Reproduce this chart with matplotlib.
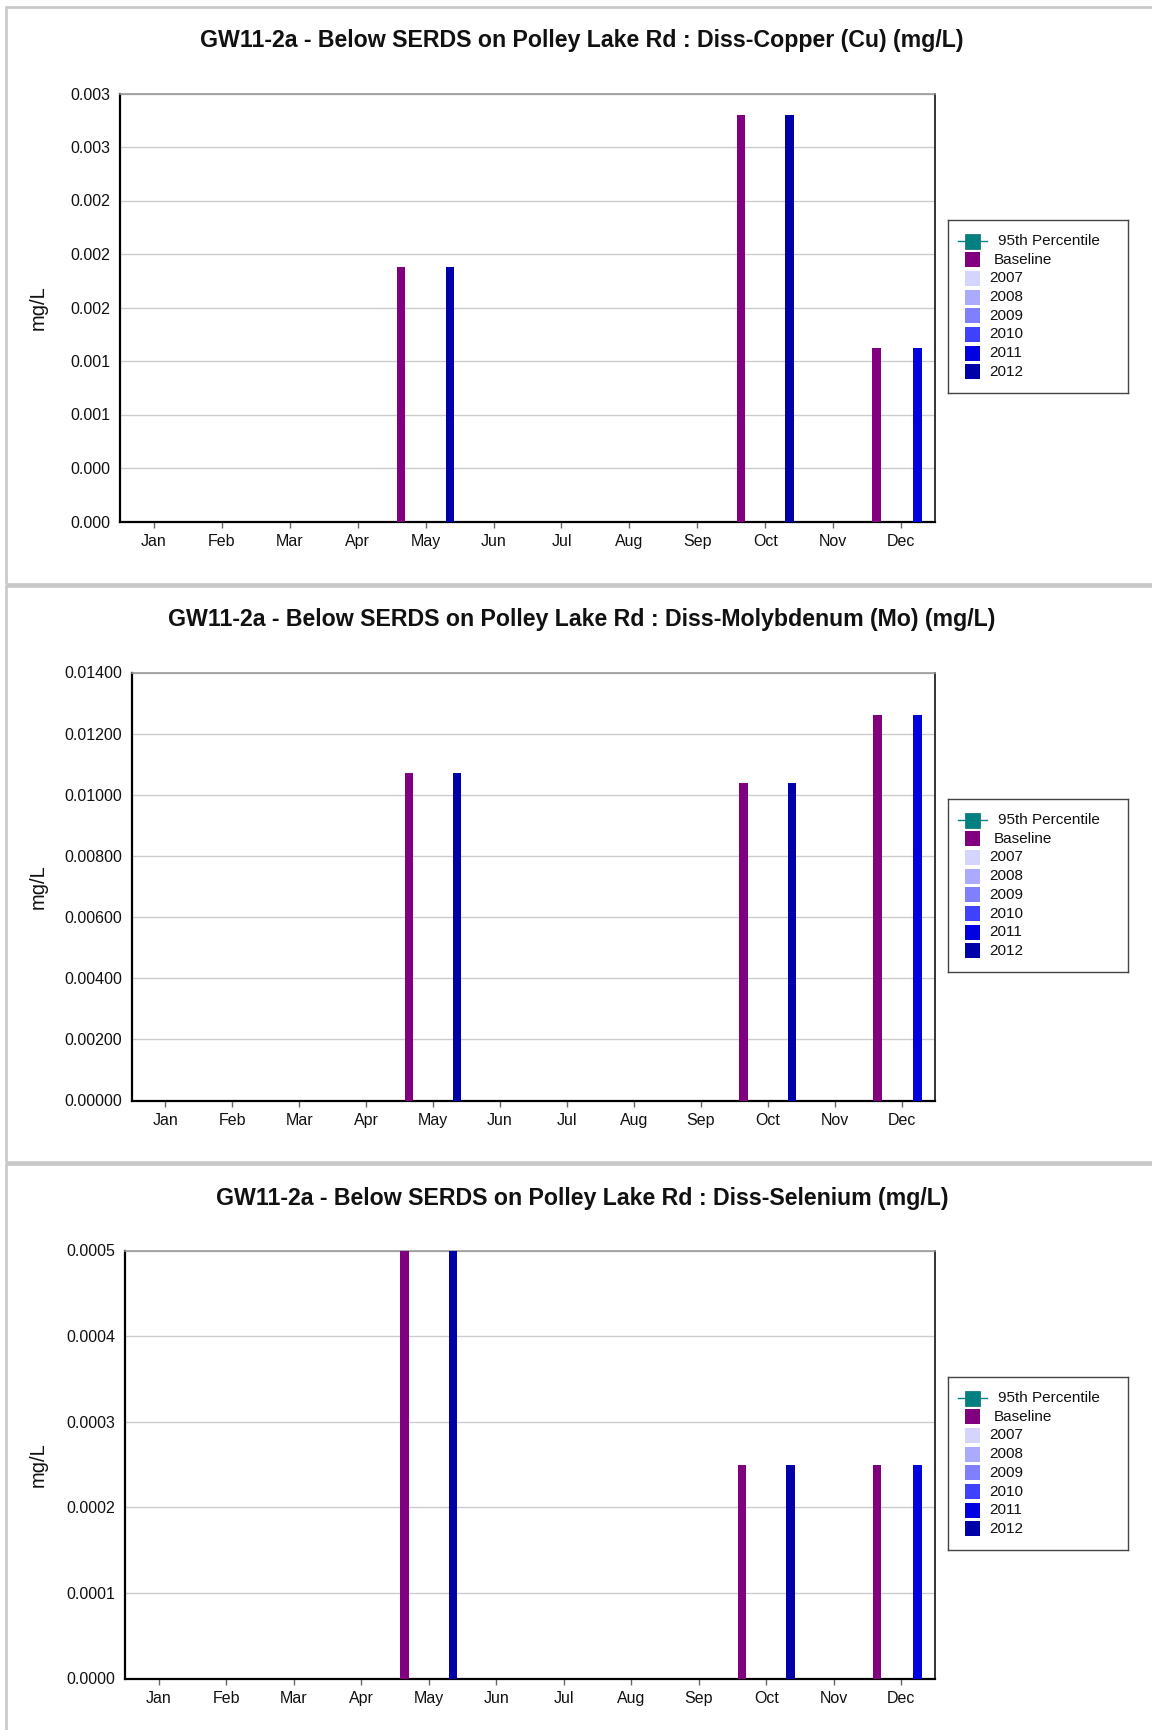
import numpy as np
import matplotlib
matplotlib.use("Agg")
import matplotlib.pyplot as plt
from matplotlib.patches import Rectangle
from matplotlib.lines import Line2D
from matplotlib.ticker import FixedLocator, FormatStrFormatter

plt.rcParams['font.family'] = ['Liberation Sans', 'DejaVu Sans']

# ---------------- data ----------------
months = ['Jan', 'Feb', 'Mar', 'Apr', 'May', 'Jun', 'Jul', 'Aug', 'Sep', 'Oct', 'Nov', 'Dec']
series_names = ['Baseline', '2007', '2008', '2009', '2010', '2011', '2012']
series_colors = ['#800080', '#D4D4FF', '#AAAAFF', '#8080FF', '#4040FF', '#0000E0', '#0000AA']
pct95_name = '95th Percentile'
pct95_color = '#008080'
nan = np.nan

titles = [
    'GW11-2a - Below SERDS on Polley Lake Rd : Diss-Copper (Cu) (mg/L)',
    'GW11-2a - Below SERDS on Polley Lake Rd : Diss-Molybdenum (Mo) (mg/L)',
    'GW11-2a - Below SERDS on Polley Lake Rd : Diss-Selenium (mg/L)',
]

# Copper
cu_baseline = [nan, nan, nan, nan, 0.0019, nan, nan, nan, nan, 0.00304, nan, 0.0013]
cu_2011 = [nan] * 11 + [0.0013]
cu_2012 = [nan, nan, nan, nan, 0.0019, nan, nan, nan, nan, 0.00304, nan, nan]
# Molybdenum
mo_baseline = [nan, nan, nan, nan, 0.0107, nan, nan, nan, nan, 0.0104, nan, 0.0126]
mo_2011 = [nan] * 11 + [0.0126]
mo_2012 = [nan, nan, nan, nan, 0.0107, nan, nan, nan, nan, 0.0104, nan, nan]
# Selenium
se_baseline = [nan, nan, nan, nan, 0.0005, nan, nan, nan, nan, 0.00025, nan, 0.00025]
se_2011 = [nan] * 11 + [0.00025]
se_2012 = [nan, nan, nan, nan, 0.0005, nan, nan, nan, nan, 0.00025, nan, nan]

empty = [nan] * 12
panel_data = [
    [cu_baseline, empty, empty, empty, empty, cu_2011, cu_2012],
    [mo_baseline, empty, empty, empty, empty, mo_2011, mo_2012],
    [se_baseline, empty, empty, empty, empty, se_2011, se_2012],
]

y_ticks = [
    [0.0, 0.0004, 0.0008, 0.0012, 0.0016, 0.0020, 0.0024, 0.0028, 0.0032],
    [0.0, 0.002, 0.004, 0.006, 0.008, 0.010, 0.012, 0.014],
    [0.0, 0.0001, 0.0002, 0.0003, 0.0004, 0.0005],
]
y_formats = ['%.3f', '%.5f', '%.4f']

# ---------------- layout (pixels) ----------------
W, H = 1152, 1730
fig = plt.figure(figsize=(W / 100, H / 100), dpi=100)

panel_tops = [7, 586, 1164]
panel_bottoms = [584, 1162, 1745]
axes_left = [120, 132, 125]
axes_right = 935
axes_top_off = 86.5
axes_h = 428


def fx(px):
    return px / W


def fy(py):
    return 1 - py / H


slot = 0.12
bar_w = 0.125
x = np.arange(len(months))

for p in range(3):
    top = panel_tops[p]
    # panel frame
    fig.add_artist(Rectangle((fx(6), fy(panel_bottoms[p])), fx(1200) - fx(6),
                             fy(top) - fy(panel_bottoms[p]), transform=fig.transFigure,
                             fill=False, edgecolor='#c8c8c8', linewidth=1.9))
    # title
    fig.text(fx(582), fy(top + 34), titles[p], ha='center', va='center',
             fontsize=16.7, fontweight='bold', color='#111111')

    at = top + axes_top_off
    L = axes_left[p]
    ax = fig.add_axes([fx(L), fy(at + axes_h), fx(axes_right) - fx(L), axes_h / H])

    for k, (name, col) in enumerate(zip(series_names, series_colors)):
        vals = np.array(panel_data[p][k], dtype=float)
        ax.bar(x + (k - 3) * slot, vals, width=bar_w, color=col, linewidth=0, zorder=3)

    ax.set_xlim(-0.5, 11.5)
    ax.set_ylim(y_ticks[p][0], y_ticks[p][-1])
    ax.yaxis.set_major_locator(FixedLocator(y_ticks[p]))
    ax.yaxis.set_major_formatter(FormatStrFormatter(y_formats[p]))
    ax.set_xticks(x)
    ax.set_xticklabels(months)
    ax.grid(axis='y', color='#cccccc', linewidth=1.0, zorder=0)
    ax.set_axisbelow(True)
    ax.tick_params(axis='y', length=0, pad=7, labelsize=11.5, labelcolor='#111111')
    ax.tick_params(axis='x', length=4, width=1, color='#666666', pad=5,
                   labelsize=11.5, labelcolor='#111111')
    for s in ['left', 'bottom']:
        ax.spines[s].set_color('#000000')
        ax.spines[s].set_linewidth(1.6)
    ax.spines['top'].set_color('#999999')
    ax.spines['top'].set_linewidth(1.2)
    ax.spines['right'].set_color('#333333')
    ax.spines['right'].set_linewidth(1.4)

    ax.set_ylabel('mg/L', fontsize=14.5, color='#111111')
    ax.yaxis.set_label_coords((48 - L) / (axes_right - L), 0.5)

    # legend box
    lt = top + 213
    lax = fig.add_axes([fx(948), fy(lt + 173), fx(1128) - fx(948), 173 / H])
    lax.set_xlim(0, 180)
    lax.set_ylim(173, 0)
    lax.set_xticks([])
    lax.set_yticks([])
    for s in lax.spines.values():
        s.set_color('#444444')
        s.set_linewidth(1.0)
    row0, dy = 21, 18.7
    # 95th percentile (line series)
    lax.add_line(Line2D([10, 39], [row0, row0], color=pct95_color, linewidth=1.0))
    lax.add_patch(Rectangle((17, row0 - 7.5), 15, 15, facecolor=pct95_color,
                            edgecolor='#0a6a6a', linewidth=0.5))
    lax.text(50, row0, pct95_name, va='center', ha='left', fontsize=11, color='#111111')
    for k, (name, col) in enumerate(zip(series_names, series_colors)):
        yy = row0 + (k + 1) * dy
        lax.add_patch(Rectangle((17, yy - 7.5), 15, 15, facecolor=col, edgecolor='none'))
        tx = 46 if k == 0 else 41
        lax.text(tx, yy, name, va='center', ha='left', fontsize=11, color='#111111')

fig.savefig('out.png', dpi=100)
